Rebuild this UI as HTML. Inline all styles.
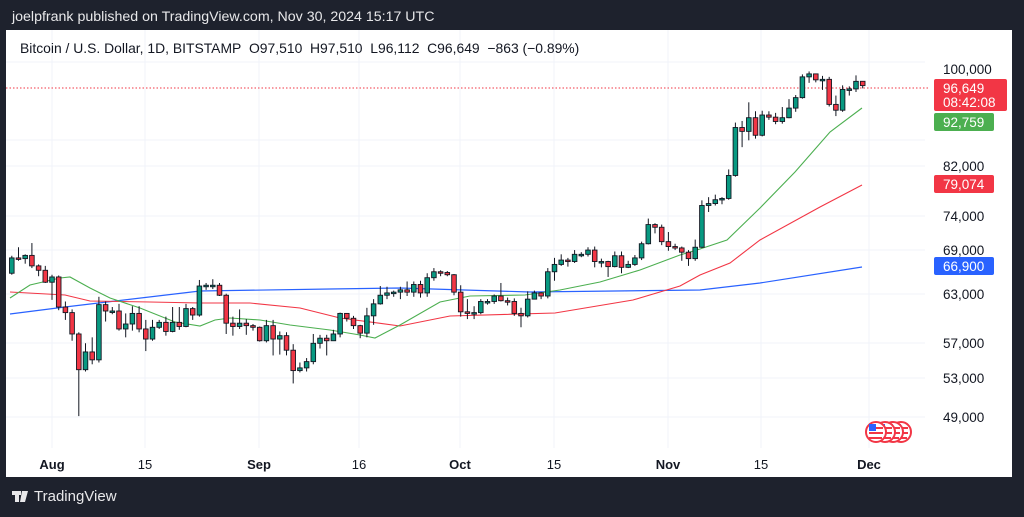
<!DOCTYPE html>
<html><head><meta charset="utf-8"><style>
body{margin:0;width:1024px;height:517px;background:#1e222d;overflow:hidden;font-family:"Liberation Sans",sans-serif;}
#hdr{position:absolute;left:12px;top:9px;color:#e8e8ea;font-size:14.2px;}
#panel{position:absolute;left:6px;top:30px;width:1006px;height:447px;background:#fff;}
#leg{position:absolute;left:20px;top:40px;font-size:13.9px;color:#131722;}
svg{position:absolute;left:0;top:0;}
#tv{position:absolute;left:12px;top:488px;color:#e8e8ea;font-size:15px;}
</style></head><body>
<div id="hdr">joelpfrank published on TradingView.com, Nov 30, 2024 15:17 UTC</div>
<div id="panel"></div>
<svg id="s" width="1024" height="517" font-family="Liberation Sans, sans-serif">
<g stroke="#f0f3fa" stroke-width="1">
<line x1="6" x2="925" y1="62" y2="62"/><line x1="6" x2="925" y1="140" y2="140"/><line x1="6" x2="925" y1="166" y2="166"/><line x1="6" x2="925" y1="216" y2="216"/><line x1="6" x2="925" y1="250" y2="250"/><line x1="6" x2="925" y1="294" y2="294"/><line x1="6" x2="925" y1="343" y2="343"/><line x1="6" x2="925" y1="378" y2="378"/><line x1="6" x2="925" y1="417" y2="417"/>
<line x1="52" x2="52" y1="30" y2="448"/><line x1="145" x2="145" y1="30" y2="448"/><line x1="259" x2="259" y1="30" y2="448"/><line x1="359" x2="359" y1="30" y2="448"/><line x1="460" x2="460" y1="30" y2="448"/><line x1="554" x2="554" y1="30" y2="448"/><line x1="668" x2="668" y1="30" y2="448"/><line x1="761" x2="761" y1="30" y2="448"/><line x1="869" x2="869" y1="30" y2="448"/>
</g>
<line x1="6" x2="930" y1="88" y2="88" stroke="#f23645" stroke-dasharray="1.5,2"/>
<polyline fill="none" stroke="#2962ff" stroke-width="1.2" points="10,314 65,307 200,291 330,289 400,288 530,292 700,290 760,283 862,267"/>
<polyline fill="none" stroke="#f23645" stroke-width="1.1" points="10,292 65,295 90,301 150,302 200,303 250,303 300,308 340,318 400,326 450,316 555,313 633,300 680,286 700,275 730,263 760,240 820,207 862,185"/>
<polyline fill="none" stroke="#4caf50" stroke-width="1.1" points="10,298 30,285 60,278 70,277 90,288 110,298 140,308 175,322 200,326 215,320 230,318 260,320 290,325 330,330 360,335 375,338 400,325 440,302 470,296 525,295 560,290 600,282 640,270 680,255 700,249 727,240 760,208 795,172 830,132 862,108"/>
<g id="c"></g>
<g font-size="13.5" fill="#131722">
<text x="943" y="74">100,000</text><text x="943" y="171">82,000</text><text x="943" y="221">74,000</text><text x="943" y="255">69,000</text><text x="943" y="299">63,000</text><text x="943" y="348">57,000</text><text x="943" y="383">53,000</text><text x="943" y="422">49,000</text>
</g>
<rect x="934" y="79" width="73" height="32" rx="2" fill="#f23645"/>
<text x="943" y="93" font-size="13.5" fill="#fff">96,649</text><text x="943" y="107" font-size="13.5" fill="#fff">08:42:08</text>
<rect x="934" y="113" width="60" height="18" rx="2" fill="#4caf50"/><text x="943" y="127" font-size="13.5" fill="#fff">92,759</text>
<rect x="934" y="175" width="60" height="18" rx="2" fill="#f23645"/><text x="943" y="189" font-size="13.5" fill="#fff">79,074</text>
<rect x="934" y="257" width="60" height="18" rx="2" fill="#2962ff"/><text x="943" y="271" font-size="13.5" fill="#fff">66,900</text>
<g font-size="13" fill="#131722" text-anchor="middle">
<text x="52" y="469" font-weight="bold">Aug</text><text x="145" y="469">15</text><text x="259" y="469" font-weight="bold">Sep</text><text x="359" y="469">16</text><text x="460" y="469" font-weight="bold">Oct</text><text x="554" y="469">15</text><text x="668" y="469" font-weight="bold">Nov</text><text x="761" y="469">15</text><text x="869" y="469" font-weight="bold">Dec</text>
</g>
<g id="fl"></g>
<g fill="#e8e8ea"><rect x="12" y="491" width="9" height="4"/><rect x="15" y="491" width="4" height="11"/><polygon points="22,491 28,491 25,502 20,502"/></g>
</svg>
<div id="leg">Bitcoin / U.S. Dollar, 1D, BITSTAMP&nbsp; O97,510&nbsp; H97,510&nbsp; L96,112&nbsp; C96,649&nbsp; −863 (−0.89%)</div>
<div id="tv" style="left:34px">TradingView</div>
<script>
var d=[[65800,67900,68200,65600],[67900,67800,69400,67500],[67800,68250,68400,67100],[68250,66800,70000,66500],[66800,66200,67000,65400],[66200,64600,66800,64500],[64600,65300,65600,62300],[65300,61400,65500,61000],[61400,60700,62100,59800],[60700,58100,61100,57300],[58100,54000,58300,49100],[54000,56000,57000,53800],[56000,55100,57700,54600],[55100,61700,62700,54800],[61700,60900,62100,59600],[60900,60900,61400,60500],[60900,58700,61800,58500],[58700,59300,60600,57700],[59300,60600,61500,58500],[60600,58700,61500,58300],[58700,57500,59800,56100],[57500,58900,59800,57300],[58900,59500,59800,58700],[59500,58400,60200,57900],[58400,59500,61400,58300],[59500,59000,61400,58600],[59000,61200,61800,58900],[61200,60400,61400,59800],[60400,64100,64900,60200],[64100,64200,64500,63600],[64200,64200,65000,63700],[64200,62900,64500,62800],[62900,59400,63100,58100],[59400,59000,60200,57900],[59000,59400,61100,58700],[59400,59100,59900,58000],[59100,58900,59300,58500],[58900,57300,59000,57200],[57300,59100,59800,57100],[59100,57500,59800,55600],[57500,57900,58400,55700],[57900,56200,58300,55600],[56200,53900,56900,52500],[53900,54200,54800,53700],[54200,54900,55300,53800],[54900,57000,58100,54600],[57000,57600,58000,56400],[57600,57300,58000,55600],[57300,58100,58600,57300],[58100,60600,60700,57700],[60600,60000,60600,59600],[60000,59100,60300,58700],[59100,58200,59200,57600],[58200,60300,61300,57700],[60300,61800,62400,59200],[61800,62900,64100,61700],[62900,63200,64000,62400],[63200,63300,63500,62700],[63300,63600,64000,62400],[63600,63300,64700,62800],[63300,64300,64700,62700],[64300,63200,64800,62600],[63200,65200,65800,62700],[65200,66000,66500,64800],[66000,65900,66200,65400],[65900,65600,66100,65400],[65600,63300,65700,62900],[63300,60800,64200,60200],[60800,60600,62400,59900],[60600,60700,61500,59900],[60700,62100,62400,60500],[62100,62100,62400,61700],[62100,62800,63000,61800],[62800,62200,64500,62100],[62200,62100,62600,61600],[62100,60600,62500,60300],[60600,60300,61300,58900],[60300,62400,63400,60100],[62400,63200,63500,62400],[63200,62800,63300,62400],[62800,66000,66500,62500],[66000,67000,67900,64800],[67000,67600,68400,66800],[67600,67400,67900,66700],[67400,68400,69000,67200],[68400,68400,68700,68000],[68400,69000,69400,68100],[69000,67400,69500,66600],[67400,67400,67800,66600],[67400,66700,67500,65300],[66700,68200,68800,66600],[68200,66600,68800,65800],[66600,67000,67500,66500],[67000,67900,68300,66800],[67900,69900,70200,67600],[69900,72700,73600,69800],[72700,72300,72900,71400],[72300,70200,72700,69700],[70200,69500,71600,68900],[69500,69300,69900,69000],[69300,68700,69500,67500],[68700,67800,69000,66800],[67800,69400,70500,67500],[69400,75600,76400,69300],[75600,75900,76900,74600],[75900,76500,77300,75600],[76500,76700,76900,75800],[76700,80400,81400,76500],[80400,88700,89600,80200],[88700,88000,89900,85200],[88000,90500,93400,86400],[90500,87300,91700,86700],[87300,91000,91800,87100],[91000,90600,91700,90100],[90600,89800,91400,89300],[89800,90500,92500,89400],[90500,92300,94000,90400],[92300,94300,94800,91600],[94300,98400,98900,94100],[98400,99000,99500,97200],[99000,97800,98700,97300],[97800,97900,98600,95800],[97900,93000,98400,92600],[93000,91900,94700,90800],[91900,95900,96700,91600],[95700,96000,96500,94700],[96000,97500,98700,95400],[97510,96649,97510,96112]];
function Y(p){return 69+(11.5129-Math.log(p))*488;}
var h='';
for(var i=0;i<d.length;i++){var x=52+(i-6)*6.7,c=d[i],up=c[1]>=c[0];
var f=up?'#089981':'#f23645';var t=Y(Math.max(c[0],c[1])),b=Y(Math.min(c[0],c[1]));if(b-t<1.5)b=t+1.5;
h+='<line x1="'+x+'" x2="'+x+'" y1="'+Y(c[2])+'" y2="'+Y(c[3])+'" stroke="#131722" stroke-width="1"/>';
h+='<rect x="'+(x-2.3)+'" y="'+t+'" width="4.6" height="'+(b-t)+'" fill="'+f+'" stroke="#131722" stroke-width="0.9"/>';}
document.getElementById('c').innerHTML=h;
var g='',cx=[901,893,885,876];
for(var k=0;k<4;k++){var X=cx[k];
g+='<circle cx="'+X+'" cy="432" r="10" fill="#fff" stroke="#f23645" stroke-width="2"/>';
g+='<rect x="'+(X-7)+'" y="427" width="14" height="2" fill="#f23645"/><rect x="'+(X-7)+'" y="432" width="14" height="2" fill="#f23645"/><rect x="'+(X-7)+'" y="437" width="13" height="2" fill="#f23645"/>';
g+='<rect x="'+(X-7)+'" y="424" width="7" height="7" fill="#2962ff"/>';}
document.getElementById('fl').innerHTML=g;
</script>
</body></html>
